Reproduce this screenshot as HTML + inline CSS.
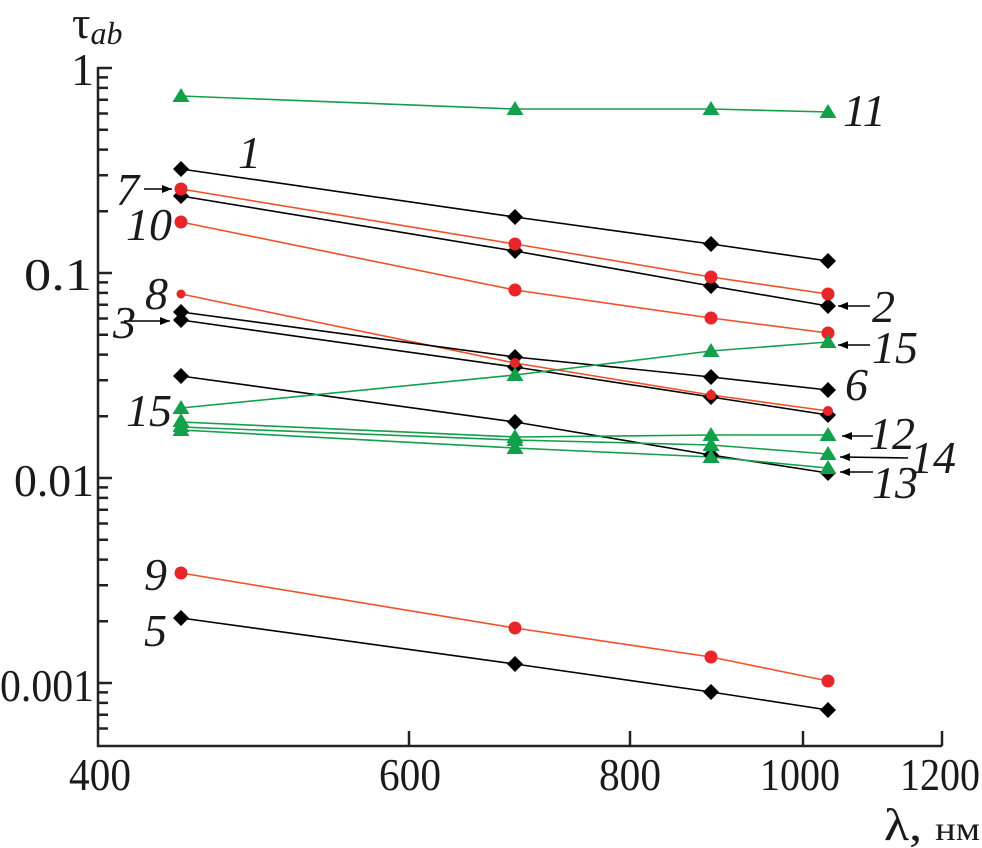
<!DOCTYPE html>
<html><head><meta charset="utf-8"><style>
html,body{margin:0;padding:0;background:#fff}
svg{display:block}
.t{font-family:"Liberation Serif","Times New Roman","DejaVu Serif",serif;font-size:46px;fill:#1a1a1a}
.l{font-family:"Liberation Serif","Times New Roman","DejaVu Serif",serif;font-style:italic;font-size:46px;fill:#1a1a1a}
</style></head><body>
<svg width="982" height="848" viewBox="0 0 982 848" xmlns="http://www.w3.org/2000/svg">
<defs>
<path id="d" d="M0,-8 L8,0 L0,8 L-8,0Z" fill="#000"/>
<circle id="c" r="6.5" fill="#e8262a"/>
<path id="tr" d="M0,-8 L8.5,6 L-8.5,6Z" fill="#13a04a"/>
<marker id="ar" markerWidth="10" markerHeight="8" refX="10" refY="4" orient="auto" markerUnits="userSpaceOnUse"><path d="M0,0 L10,4 L0,8Z" fill="#000"/></marker>
</defs>
<g stroke="#222" stroke-width="2.5" fill="none">
<path d="M98,67 V746 H942"/>
<path d="M98,68 h14 M98,273 h14 M98,478 h14 M98,683 h14"/>
<path d="M98,211.3h10M98,175.2h10M98,149.6h10M98,129.7h10M98,113.5h10M98,99.8h10M98,87.9h10M98,77.4h10
M98,416.3h10M98,380.2h10M98,354.6h10M98,334.7h10M98,318.5h10M98,304.8h10M98,292.9h10M98,282.4h10
M98,621.3h10M98,585.2h10M98,559.6h10M98,539.7h10M98,523.5h10M98,509.8h10M98,497.9h10M98,487.4h10
M98,692.4h10M98,702.9h10M98,714.8h10M98,728.5h10"/>
<path d="M409,746 v-15 M630,746 v-15 M803,746 v-15 M942,746 v-15"/>
</g>
<g class="t">
<text x="94" y="85" text-anchor="end">1</text>
<text x="92" y="290" text-anchor="end" textLength="68" lengthAdjust="spacingAndGlyphs">0.1</text>
<text x="94" y="496" text-anchor="end" textLength="80" lengthAdjust="spacingAndGlyphs">0.01</text>
<text x="94" y="701" text-anchor="end" textLength="94" lengthAdjust="spacingAndGlyphs">0.001</text>
<text x="100" y="790" text-anchor="middle" textLength="62" lengthAdjust="spacingAndGlyphs">400</text>
<text x="410" y="790" text-anchor="middle" textLength="62" lengthAdjust="spacingAndGlyphs">600</text>
<text x="630" y="790" text-anchor="middle" textLength="62" lengthAdjust="spacingAndGlyphs">800</text>
<text x="800" y="790" text-anchor="middle" textLength="80" lengthAdjust="spacingAndGlyphs">1000</text>
<text x="940" y="790" text-anchor="middle" textLength="80" lengthAdjust="spacingAndGlyphs">1200</text>
<text x="884" y="840" textLength="96" lengthAdjust="spacingAndGlyphs">λ, <tspan font-size="34">нм</tspan></text>
<text x="72" y="38">τ<tspan font-style="italic" font-size="32" dy="6">ab</tspan></text>
</g>
<g fill="none" stroke-width="1.6">
<polyline stroke="#13a04a" points="181,96 515,109 711,109 828,112"/>
<polyline stroke="#000" points="181,169 515,217 711,244 828,261"/>
<polyline stroke="#f0502a" points="181,189 515,244 711,277 828,294"/>
<polyline stroke="#000" points="181,196 515,251 711,286 828,306"/>
<polyline stroke="#f0502a" points="181,222 515,290 711,318 828,333"/>
<polyline stroke="#f0502a" points="181,294 515,363 711,395 828,411"/>
<polyline stroke="#000" points="181,312 515,357 711,377 828,390"/>
<polyline stroke="#000" points="181,320 515,367 711,397 828,415"/>
<polyline stroke="#000" points="181,376 515,422 711,455 828,473"/>
<polyline stroke="#13a04a" points="181,408 515,375 711,351 828,342"/>
<polyline stroke="#13a04a" points="181,422 515,437 711,435 828,435"/>
<polyline stroke="#13a04a" points="181,427 515,440 711,445 828,454"/>
<polyline stroke="#13a04a" points="181,430 515,448 711,457 828,468"/>
<polyline stroke="#f0502a" points="181,573 515,628 711,657 828,681"/>
<polyline stroke="#000" points="181,618 515,664 711,692 828,710"/>
</g>
<g>
<use href="#tr" x="181" y="96"/><use href="#tr" x="515" y="109"/><use href="#tr" x="711" y="109"/><use href="#tr" x="828" y="112"/>
<use href="#d" x="181" y="169"/><use href="#d" x="515" y="217"/><use href="#d" x="711" y="244"/><use href="#d" x="828" y="261"/>
<use href="#d" x="181" y="196"/><use href="#d" x="515" y="251"/><use href="#d" x="711" y="286"/><use href="#d" x="828" y="306"/>
<use href="#c" x="181" y="189"/><use href="#c" x="515" y="244"/><use href="#c" x="711" y="277"/><use href="#c" x="828" y="294"/>
<use href="#c" x="181" y="222"/><use href="#c" x="515" y="290"/><use href="#c" x="711" y="318"/><use href="#c" x="828" y="333"/>
<use href="#d" x="181" y="312"/><use href="#d" x="515" y="357"/><use href="#d" x="711" y="377"/><use href="#d" x="828" y="390"/>
<use href="#d" x="181" y="320"/><use href="#d" x="515" y="367"/><use href="#d" x="711" y="397"/><use href="#d" x="828" y="415"/>
<circle cx="181" cy="294" r="4.5" fill="#e8262a"/><circle cx="515" cy="363" r="5" fill="#e8262a"/><circle cx="711" cy="395" r="5" fill="#e8262a"/><circle cx="828" cy="411" r="5" fill="#e8262a"/>
<use href="#d" x="181" y="376"/><use href="#d" x="515" y="422"/><use href="#d" x="711" y="455"/><use href="#d" x="828" y="473"/>
<use href="#tr" x="181" y="408"/><use href="#tr" x="515" y="375"/><use href="#tr" x="711" y="351"/><use href="#tr" x="828" y="342"/>
<use href="#tr" x="181" y="421"/><use href="#tr" x="515" y="437"/><use href="#tr" x="711" y="435"/><use href="#tr" x="828" y="435"/>
<use href="#tr" x="181" y="426"/><use href="#tr" x="515" y="440"/><use href="#tr" x="711" y="445"/><use href="#tr" x="828" y="454"/>
<use href="#tr" x="181" y="430"/><use href="#tr" x="515" y="448"/><use href="#tr" x="711" y="457"/><use href="#tr" x="828" y="468"/>
<use href="#c" x="181" y="573"/><use href="#c" x="515" y="628"/><use href="#c" x="711" y="657"/><use href="#c" x="828" y="681"/>
<use href="#d" x="181" y="618"/><use href="#d" x="515" y="664"/><use href="#d" x="711" y="692"/><use href="#d" x="828" y="710"/>
</g>
<g stroke="#000" stroke-width="1.6" marker-end="url(#ar)">
<line x1="144" y1="189" x2="172" y2="189"/>
<line x1="124" y1="321" x2="170" y2="321"/>
<line x1="870" y1="306" x2="838" y2="306"/>
<line x1="870" y1="345" x2="838" y2="345"/>
<line x1="873" y1="436" x2="842" y2="436"/>
<line x1="908" y1="458" x2="840" y2="457"/>
<line x1="873" y1="472" x2="840" y2="472"/>
</g>
<g class="l">
<text x="238" y="168">1</text>
<text x="116" y="205">7</text>
<text x="126" y="240">10</text>
<text x="145" y="309">8</text>
<text x="113" y="338">3</text>
<text x="126" y="426">15</text>
<text x="144" y="590">9</text>
<text x="144" y="646">5</text>
<text x="843" y="126">11</text>
<text x="872" y="322">2</text>
<text x="872" y="363">15</text>
<text x="845" y="400">6</text>
<text x="869" y="449">12</text>
<text x="910" y="473">14</text>
<text x="872" y="498">13</text>
</g>
</svg>
</body></html>
